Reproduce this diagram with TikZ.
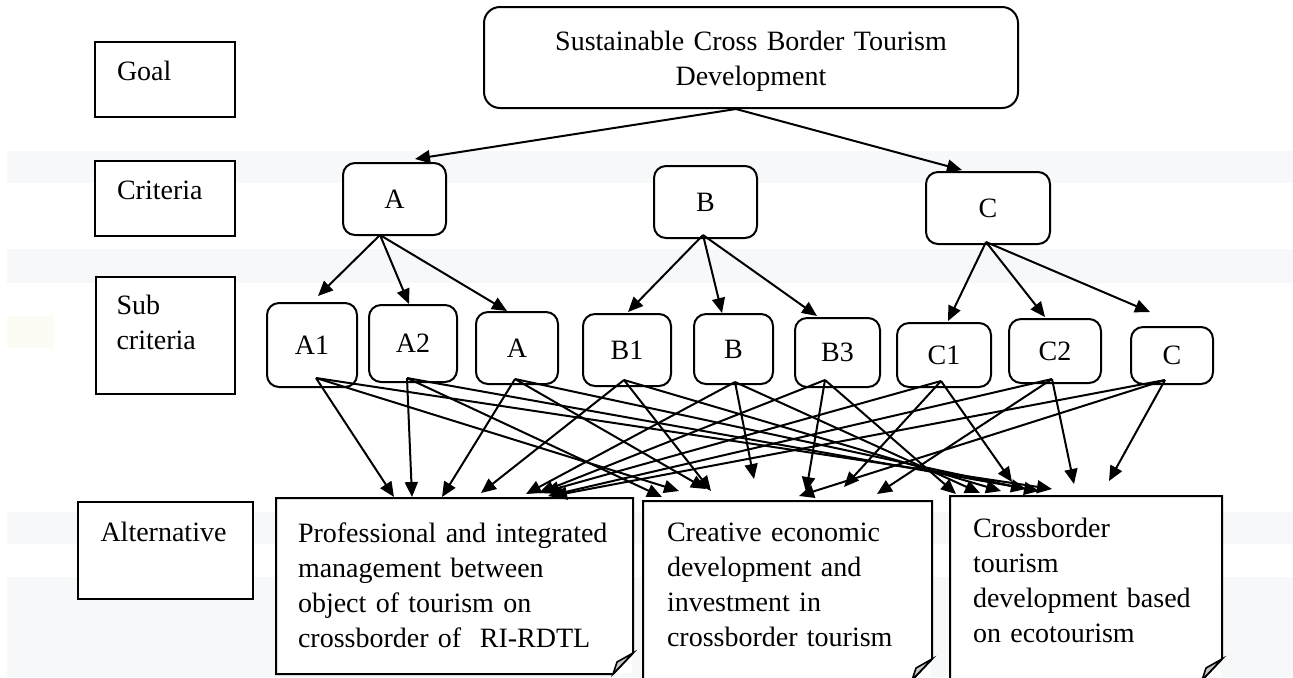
\documentclass[tikz,border=0pt]{standalone}
\usepackage{fontspec}
\setmainfont{Liberation Serif}
\usepackage{tikz}
\usetikzlibrary{arrows.meta,positioning,calc}
\definecolor{band}{RGB}{247,248,250}
\definecolor{cream}{RGB}{253,252,244}
\definecolor{fold}{RGB}{200,200,200}

\begin{document}
\begin{tikzpicture}[x=0.5pt,y=-0.5pt,% pixel units, y going down
			every node/.style={
				font=\fontsize{14pt}{17.5pt}\selectfont,
				inner sep=0pt,
				line width=1pt
			},
			labelbox/.style={rectangle,draw=black,fill=white,align=left},
			critbox/.style={rectangle,rounded corners=6pt,draw=black,fill=white,align=center},
			altbox/.style={rectangle,fill=white,align=left},
			every edge/.style={draw,line width=1pt},
			>={Triangle[length=7.5pt,width=6.5pt]}
		]
		\useasboundingbox (0,0) rectangle (1293,677);
		% faint bands of the scan
		\fill[band] (7,151) rectangle (1293,183);
		\fill[band] (7,249) rectangle (1293,283);
		\fill[band] (7,512) rectangle (1293,544);
		\fill[band] (7,577) rectangle (1293,677);
		\fill[cream] (7,316) rectangle (54,348);
		% level labels
		\node[labelbox,text width=48pt,inner xsep=11pt,text height=19pt,text depth=18.5pt](LGoal) at (165,79.5){Goal};
		\node[labelbox,text width=48pt,inner xsep=11pt,text height=19pt,text depth=18.5pt](LCrit)[below=21pt of LGoal]{Criteria};
		\node[labelbox,text width=48.5pt,inner xsep=10.5pt,text height=18.5pt,text depth=40pt](LSub)[below=19.5pt of LCrit]{Sub\\criteria};
		\node[labelbox,text width=64.5pt,inner xsep=11.5pt,text height=19.5pt,text depth=29pt](LAlt)[below=53pt of LSub]{Alternative};
		% goal and criteria
		\node[critbox,rounded corners=8pt,text width=247pt,inner xsep=10pt,text height=21.5pt,text depth=29pt](G) at (751,57.5){Sustainable Cross Border Tourism\\Development};
		\node[critbox,minimum width=51.5pt,minimum height=36pt](A) at (394.5,199){A};
		\node[critbox,minimum width=51.5pt,minimum height=36pt](B) at (705.5,202){B};
		\node[critbox,minimum width=62pt,minimum height=36pt](C) at (988,208){C};
		% sub criteria
		\node[critbox,minimum width=45pt,minimum height=42pt](A1) at (312,345){A1};
		\node[critbox,minimum width=44pt,minimum height=38.5pt](A2) at (413,343.5){A2};
		\node[critbox,minimum width=41pt,minimum height=36pt](As) at (517,348){A};
		\node[critbox,minimum width=44pt,minimum height=36pt](B1) at (627,350){B1};
		\node[critbox,minimum width=39.5pt,minimum height=35pt](Bs) at (733.5,349){B};
		\node[critbox,minimum width=42.5pt,minimum height=34.5pt](B3) at (837.5,352.5){B3};
		\node[critbox,minimum width=47pt,minimum height=32pt](C1) at (944,355){C1};
		\node[critbox,minimum width=46pt,minimum height=32pt](C2) at (1055,351){C2};
		\node[critbox,minimum width=41pt,minimum height=28.5pt](Cs) at (1172,355.5){C};
		% alternatives
		\node[altbox,text width=156.5pt,inner xsep=10.5pt,text height=21.5pt,text depth=65.5pt](P) at (454.5,586){Professional and integrated\\management between\\object of tourism on\\crossborder of\ \ RI-RDTL};
		\node[altbox,text width=120.5pt,inner xsep=11.5pt,text height=19.5pt,text depth=69pt](Cr) at (787.5,590.5){Creative economic\\development and\\investment in\\crossborder tourism};
		\node[altbox,text width=113pt,inner xsep=11pt,text height=20pt,text depth=71pt](E) at (1086,588){Crossborder\\tourism\\development based\\on ecotourism};
		\draw[line width=1pt] (P.north west) -- (P.north east) -- ($(P.south east)+(0,-21)$) -- ($(P.south east)+(-20,0)$) -- (P.south west) -- cycle;
		\filldraw[fill=fold,line width=0.8pt] ($(P.south east)+(0,-21)$) -- ($(P.south east)+(-16,-12)$) -- ($(P.south east)+(-20,0)$) -- cycle;
		\draw[line width=1pt] (Cr.north west) -- (Cr.north east) -- ($(Cr.south east)+(0,-21)$) -- ($(Cr.south east)+(-20,0)$) -- (Cr.south west) -- cycle;
		\filldraw[fill=fold,line width=0.8pt] ($(Cr.south east)+(0,-21)$) -- ($(Cr.south east)+(-16,-12)$) -- ($(Cr.south east)+(-20,0)$) -- cycle;
		\draw[line width=1pt] (E.north west) -- (E.north east) -- ($(E.south east)+(0,-21)$) -- ($(E.south east)+(-20,0)$) -- (E.south west) -- cycle;
		\filldraw[fill=fold,line width=0.8pt] ($(E.south east)+(0,-21)$) -- ($(E.south east)+(-16,-12)$) -- ($(E.south east)+(-20,0)$) -- cycle;
		% start points of the arrows
		\coordinate (Go) at ($(G.south)+(-15,0)$);
		\coordinate (Ao) at ($(A.south)+(-14.5,-1)$);
		\coordinate (Bo) at ($(B.south)+(-2.5,-4)$);
		\coordinate (Co) at ($(C.south)+(-2,-3)$);
		\coordinate (A1o) at ($(A1.south)+(4,-10)$);
		\coordinate (A2o) at ($(A2.south)+(-6,-5)$);
		\coordinate (Aso) at ($(As.south)+(-2,-6)$);
		\coordinate (B1o) at ($(B1.south)+(-3,-7)$);
		\coordinate (Bso) at ($(Bs.south)+(1.5,-3)$);
		\coordinate (B3o) at ($(B3.south)+(-12.5,-8)$);
		\coordinate (C1o) at ($(C1.south)+(-3,-7)$);
		\coordinate (C2o) at ($(C2.south)+(-3,-5)$);
		\coordinate (Cso) at ($(Cs.south)+(-7,-5)$);
		\path[->]
		(Go) edge ($(A.north)+(20.5,-3)$)
		(Go) edge ($(C.north)+(-26,-1)$)
		(Ao) edge ($(A1.north)+(6,-6)$)
		(Ao) edge ($(A2.north)+(-4,0)$)
		(Ao) edge ($(As.north)+(-10,0)$)
		(Bo) edge ($(B1.north)+(1,-1)$)
		(Bo) edge ($(Bs.north)+(-11.5,0)$)
		(Bo) edge ($(B3.north)+(-20.5,-1)$)
		(Co) edge ($(C1.north)+(4,-1)$)
		(Co) edge ($(C2.north)+(-10,-1)$)
		(Co) edge ($(Cs.north)+(-22,-14)$)
		;
		\path[->]
		(A1o) edge ($(P.north west)+(118,-1)$)
		(A1o) edge ($(Cr.north west)+(36,-10)$)
		(A1o) edge ($(E.north west)+(102,-7)$)
		(A2o) edge ($(P.north west)+(136,-1)$)
		(A2o) edge ($(Cr.north west)+(19,-4)$)
		(A2o) edge ($(E.north west)+(89,-5)$)
		(Aso) edge ($(P.north west)+(166,-1)$)
		(Aso) edge ($(Cr.north west)+(63,-12)$)
		(Aso) edge ($(E.north west)+(76,-7)$)
		(B1o) edge ($(P.north west)+(205,-5)$)
		(B1o) edge ($(Cr.north west)+(68,-10)$)
		(B1o) edge ($(E.north west)+(51,-5)$)
		(Bso) edge ($(P.north west)+(250,-4)$)
		(Bso) edge ($(Cr.north west)+(111,-22)$)
		(Bso) edge ($(E.north west)+(30,-3)$)
		(B3o) edge ($(P.north west)+(263,-5)$)
		(B3o) edge ($(Cr.north west)+(163,-9)$)
		(B3o) edge ($(E.north west)+(6,-2)$)
		(C1o) edge ($(P.north west)+(268,-6)$)
		(C1o) edge ($(Cr.north west)+(201,-14)$)
		(C1o) edge ($(E.north west)+(62,-14)$)
		(C2o) edge ($(P.north west)+(272,-2)$)
		(C2o) edge ($(Cr.north west)+(234,-7)$)
		(C2o) edge ($(E.north west)+(124,-12)$)
		(Cso) edge ($(P.north west)+(276,-2)$)
		(Cso) edge ($(Cr.north west)+(156,-5)$)
		(Cso) edge ($(E.north west)+(159,-15)$)
		;
	\end{tikzpicture}
\end{document}
